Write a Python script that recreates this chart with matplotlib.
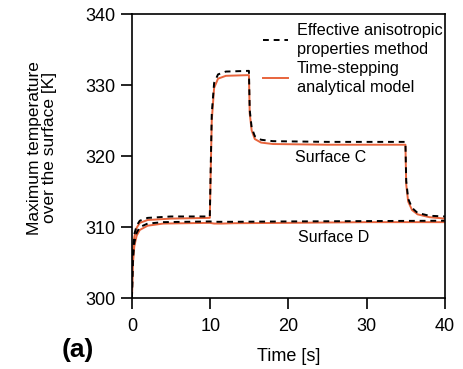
import matplotlib.pyplot as plt

plt.rcParams['font.family'] = ['Liberation Sans', 'DejaVu Sans']

# Surface C (time in s, max temperature in K)
t_c = [0, 0.1, 0.3, 0.6, 1, 2, 5, 9.95, 10.05, 10.2, 10.5, 11, 12, 14.95,
       15.05, 15.3, 15.7, 16.5, 18, 25, 34.95, 35.05, 35.3, 35.8, 36.5, 38, 40]
c_model = [300, 306, 308.6, 309.9, 310.6, 311.0, 311.2, 311.3, 317, 325, 329.6,
           330.9, 331.3, 331.4, 326, 323.6, 322.4, 321.9, 321.7, 321.6, 321.6,
           316, 313.6, 312.4, 311.8, 311.4, 311.2]
c_eap = [300, 306.5, 309.0, 310.2, 310.9, 311.3, 311.5, 311.5, 317.5, 326, 330.3,
         331.5, 331.9, 332.0, 326.5, 324.0, 322.8, 322.3, 322.1, 322.0, 322.0,
         316.5, 314.0, 312.7, 312.0, 311.6, 311.5]

# Surface D
t_d = [0, 0.1, 0.3, 0.6, 1, 2, 4, 9.95, 10.5, 11.5, 13, 20, 30, 40]
d_model = [300, 304.5, 307.3, 308.8, 309.6, 310.2, 310.5, 310.6, 310.5, 310.5,
           310.55, 310.6, 310.7, 310.7]
d_eap = [300, 305, 307.8, 309.2, 310.0, 310.5, 310.7, 310.8, 310.75, 310.75,
         310.75, 310.8, 310.85, 310.9]

orange = "#e8643c"

fig = plt.figure(figsize=(4.63, 3.69), dpi=100)
ax = fig.add_axes([0.285, 0.192, 0.676, 0.77])

ax.plot(t_c, c_model, color=orange, lw=1.4, label="Time-stepping\nanalytical model")
ax.plot(t_d, d_model, color=orange, lw=1.4)
ax.plot(t_c, c_eap, color="black", lw=1.4, ls=(0, (3, 2.5)),
        label="Effective anisotropic\nproperties method")
ax.plot(t_d, d_eap, color="black", lw=1.4, ls=(0, (3, 2.5)))

ax.set_xlim(0, 40)
ax.set_ylim(300, 340)
ax.set_xticks([0, 10, 20, 30, 40])
ax.set_yticks([300, 310, 320, 330, 340])
ax.tick_params(direction="out", length=8, width=1.2, labelsize=13)
ax.tick_params(axis="x", pad=6)
ax.tick_params(axis="y", pad=4)
for s in ax.spines.values():
    s.set_linewidth(1.2)

ax.set_xlabel("Time [s]", fontsize=13)
ax.xaxis.set_label_coords(0.5, -0.175)
ax.set_ylabel("Maximum temperature\nover the surface [K]", fontsize=12.5,
              linespacing=1.0)
ax.yaxis.set_label_coords(-0.24, 0.53)

ax.text(20.8, 320.8, "Surface C", fontsize=11.5, va="top")
ax.text(21.2, 309.6, "Surface D", fontsize=11.5, va="top")

h, l = ax.get_legend_handles_labels()
leg = ax.legend(h[::-1], l[::-1], loc="upper right", frameon=False, fontsize=11.7,
                handlelength=1.5, handletextpad=0.55, borderaxespad=0.0,
                labelspacing=0.25, bbox_to_anchor=(1.013, 0.99))
for t in leg.get_texts():
    t.set_linespacing(1.3)

fig.text(0.134, 0.051, "(a)", fontsize=19, fontweight="bold", va="center")

fig.savefig("out.png", dpi=100)
